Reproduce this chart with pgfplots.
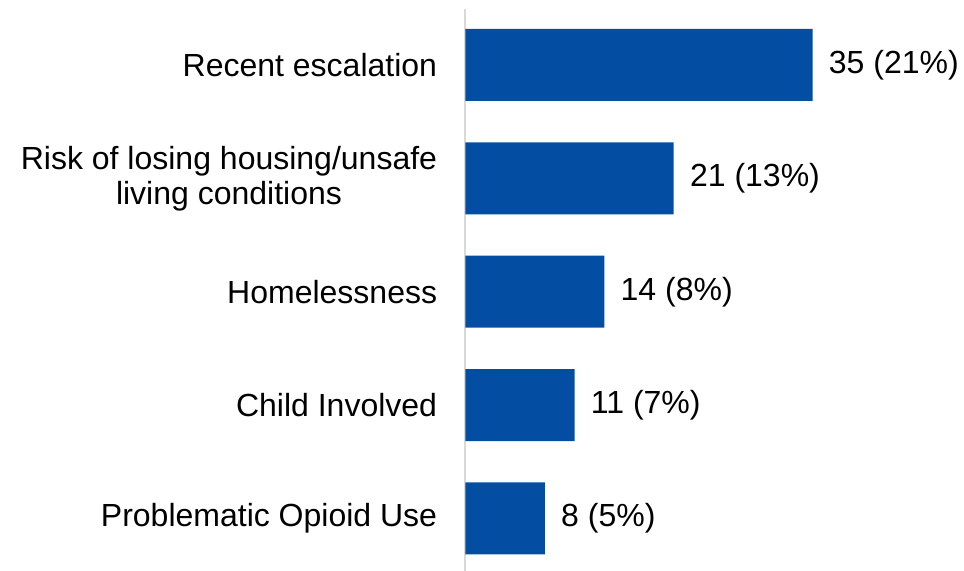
\documentclass[border=0pt]{standalone}
\usepackage{pgfplots}
\pgfplotsset{compat=1.18}
\usepackage{fontspec}
\setmainfont{Liberation Sans}
\definecolor{barblue}{HTML}{034EA2}
\definecolor{axgray}{HTML}{D9D9D9}
\begin{document}
\begin{tikzpicture}
\useasboundingbox (-232.75pt,0pt) rectangle (249.25pt,285.5pt);
\begin{axis}[
  xbar, scale only axis, width=249.25pt, height=281pt,
  xmin=0, xmax=50.28, ymin=-0.463, ymax=4.494,
  bar width=36pt,
  axis x line=none, axis y line*=left,
  y axis line style={draw=axgray, line width=1pt},
  major tick length=0pt, ytick style={draw=none},
  ytick={0,1,2,3,4},
  yticklabels={Problematic Opioid Use, Child Involved, Homelessness, {Risk of losing housing/unsafe\\living conditions}, Recent escalation},
  yticklabel style={align=center, inner sep=0pt, xshift=-14pt, font=\fontsize{16}{17.5}\selectfont},
  point meta=explicit symbolic,
  nodes near coords,
  nodes near coords style={anchor=west, inner sep=0pt, xshift=8pt, font=\fontsize{16}{17.5}\selectfont, text=black},
  clip=false,
]
\addplot[fill=barblue, draw=none] coordinates {
  (8,0) [8 (5\%)]
  (11,1) [11 (7\%)]
  (14,2) [14 (8\%)]
  (21,3) [21 (13\%)]
  (35,4) [35 (21\%)]
};
\end{axis}
\end{tikzpicture}
\end{document}
